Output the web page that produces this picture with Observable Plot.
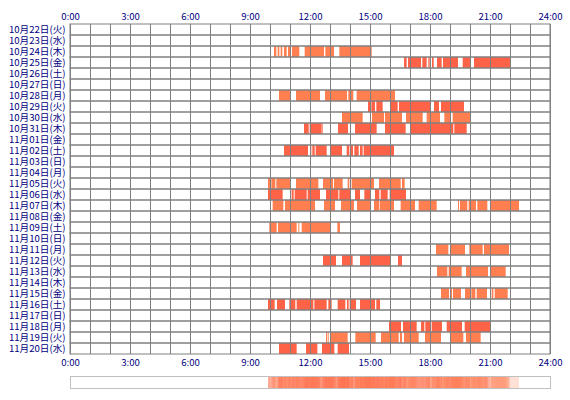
<!DOCTYPE html>
<html><head><meta charset="utf-8">
<script src="https://cdn.jsdelivr.net/npm/d3@7"></script>
<script src="https://cdn.jsdelivr.net/npm/@observablehq/plot@0.6"></script>
<style>body{margin:0;background:#fff} svg{display:block}</style>
</head><body><div id="chart"></div>
<script>
const days = [
  "10月22日(火)","10月23日(水)","10月24日(木)","10月25日(金)","10月26日(土)","10月27日(日)",
  "10月28日(月)","10月29日(火)","10月30日(水)","10月31日(木)","11月01日(金)","11月02日(土)",
  "11月03日(日)","11月04日(月)","11月05日(火)","11月06日(水)","11月07日(木)","11月08日(金)",
  "11月09日(土)","11月10日(日)","11月11日(月)","11月12日(火)","11月13日(水)","11月14日(木)",
  "11月15日(金)","11月16日(土)","11月17日(日)","11月18日(月)","11月19日(火)","11月20日(水)"
];
// active periods per day, [start, end] in minutes after midnight
const activity = [
  [],
  [],
  [[612,619],[623,628],[632,637],[642,650],[654,660],[666,688],[704,720],[723,762],[766,780],[783,792],[808,905]],
  [[1002,1010],[1014,1053],[1057,1070],[1075,1079],[1086,1091],[1101,1115],[1119,1140],[1142,1164],[1178,1200],[1212,1320]],
  [],
  [],
  [[627,662],[678,750],[765,831],[835,850],[860,975]],
  [[894,902],[904,915],[919,938],[962,983],[987,1080],[1092,1107],[1113,1182]],
  [[816,878],[906,942],[945,996],[1008,1058],[1070,1110],[1123,1140],[1148,1200]],
  [[702,716],[719,755],[757,759],[804,834],[855,920],[945,1007],[1022,1150],[1153,1190]],
  [],
  [[642,714],[720,724],[727,734],[737,770],[782,816],[830,838],[842,849],[853,866],[870,878],[881,972]],
  [],
  [],
  [[594,601],[604,616],[619,662],[678,745],[759,789],[792,818],[833,838],[845,912],[927,992],[996,1004]],
  [[594,638],[665,671],[674,710],[713,750],[768,805],[808,840],[855,870],[883,903],[915,928],[932,953],[959,1008]],
  [[608,640],[645,720],[722,735],[762,795],[813,852],[861,900],[912,928],[930,972],[992,1035],[1046,1100],[1164,1167],[1170,1192],[1196,1200],[1203,1218],[1222,1252],[1262,1347]],
  [],
  [[597,599],[602,620],[624,680],[685,688],[695,782],[802,810]],
  [],
  [[1098,1135],[1142,1185],[1198,1238],[1242,1317]],
  [[759,798],[816,848],[870,960],[984,996]],
  [[1101,1132],[1136,1175],[1188,1254],[1263,1307]],
  [],
  [[1113,1137],[1141,1146],[1149,1173],[1185,1201],[1204,1216],[1220,1251],[1265,1270],[1274,1313]],
  [[594,614],[621,645],[658,676],[680,730],[733,770],[775,785],[803,826],[831,836],[839,858],[870,915],[919,930]],
  [],
  [[957,993],[999,1040],[1053,1063],[1066,1080],[1085,1116],[1130,1176],[1184,1260]],
  [[768,771],[773,776],[780,833],[856,917],[933,986],[990,996],[1002,1046],[1065,1113],[1140,1180],[1188,1232]],
  [[627,680],[708,742],[756,793],[803,837]]
];
const tickValues = [0,180,360,540,720,900,1080,1260,1440];
const tickLabels = ["0:00","3:00","6:00","9:00","12:00","15:00","18:00","21:00","24:00"];
const hourLines = [0,60,120,180,240,300,360,420,480,540,600,660,720,780,840,900,960,1020,1080,1140,1200,1260,1320,1380,1440];
const rowColors = ["coral","tomato"];

const segs = activity.flatMap((list,i)=>list.map(([s,e])=>({day:days[i], start:s, end:e, color:rowColors[i%2]})));
const font = '"Noto Sans CJK JP", "Noto Sans", sans-serif';
const fmt = d => tickLabels[tickValues.indexOf(d)];

const main = Plot.plot({
  width:570, height:370, marginLeft:70, marginRight:20, marginTop:24, marginBottom:16,
  style:{fontFamily:font, fontSize:"9.6px", color:"#000080", background:"white"},
  x:{domain:[0,1440]},
  y:{domain:days, padding:0},
  color:{type:"identity"},
  marks:[
    Plot.barX(segs,{x1:"start",x2:"end",y:"day",fill:"color"}),
    Plot.barX(days,{x1:0,x2:1440,y:d=>d,fill:"none",stroke:"#808080"}),
    Plot.ruleX(hourLines,{stroke:"#808080"}),
    Plot.axisX({anchor:"top",ticks:tickValues,tickFormat:fmt,tickSize:0,tickPadding:5,label:null}),
    Plot.axisX({anchor:"bottom",ticks:tickValues,tickFormat:fmt,tickSize:0,tickPadding:5,label:null}),
    Plot.axisY({tickSize:0,tickPadding:5,label:null})
  ]
});

const strip = Plot.plot({
  width:570, height:30, marginLeft:70, marginRight:20, marginTop:6, marginBottom:12,
  style:{background:"white"},
  x:{domain:[0,1440], axis:null},
  color:{type:"identity"},
  marks:[
    Plot.rect(segs,{x1:"start",x2:"end",fill:"color",fillOpacity:0.24}),
    Plot.frame({stroke:"#c0c0c0"})
  ]
});

const el = document.getElementById("chart");
el.append(main, strip);
</script>
</body></html>
